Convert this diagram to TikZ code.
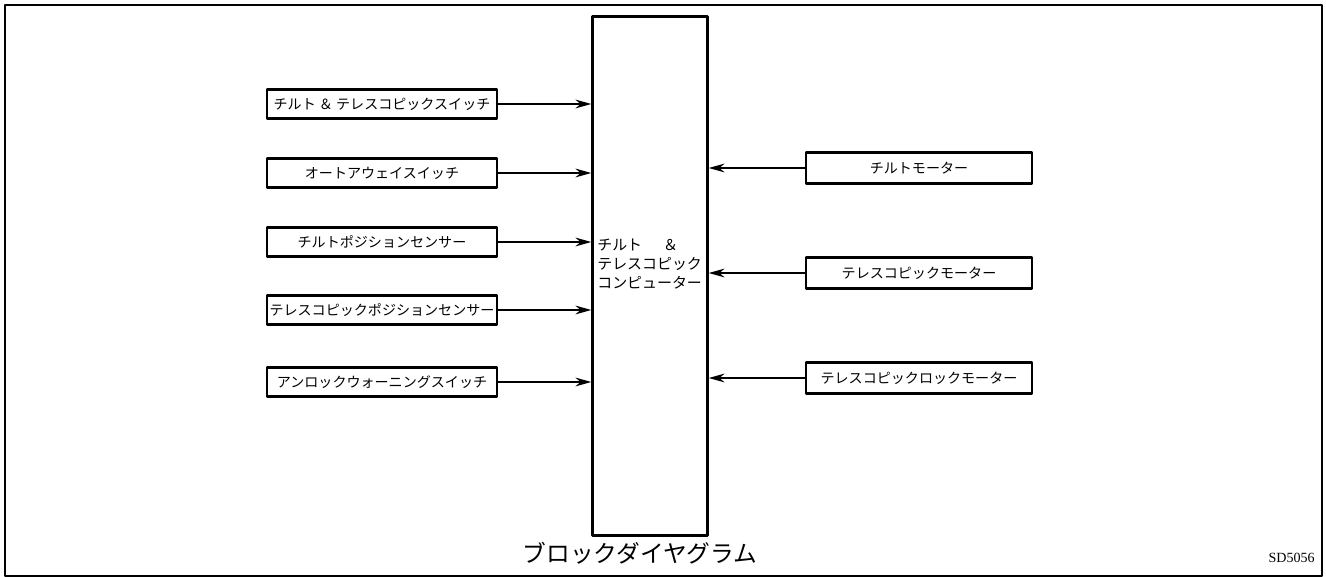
\documentclass[tikz,border=0pt]{standalone}
\usepackage{fontspec}
\newfontfamily\jpfont{Noto Sans CJK JP}
\setmainfont{Liberation Serif}
\usetikzlibrary{arrows.meta,calc,positioning}

\newdimen\pxu
\pxu=0.02cm
\tikzset{
  inbox/.style={draw,line width=1.4pt,rectangle,inner sep=0pt,
    minimum width=230\pxu,minimum height=29\pxu,font=\jpfont\fontsize{8}{10}\selectfont},
  outbox/.style={draw,line width=1.4pt,rectangle,inner sep=0pt,
    minimum width=226\pxu,minimum height=31\pxu,font=\jpfont\fontsize{8}{10}\selectfont},
  sig/.style={-{Stealth[length=9pt,width=5pt]},line width=0.9pt}
}

\begin{document}
\begin{tikzpicture}[x=0.02cm,y=-0.02cm,line cap=round,line join=round]
 \useasboundingbox (0,0) rectangle (1326,577);
 % outer frame
 \draw[line width=0.9pt] (5,5) rectangle (1322,576);
 % computer
 \node[draw,line width=1.4pt,minimum width=115\pxu,minimum height=519\pxu,inner sep=0pt]
  (cpu) at (650,276) {};
 \node[anchor=west,align=left,inner sep=0pt,
  font=\jpfont\fontsize{8.5}{10.8}\selectfont] (cpulbl) at (597,264)
  {チルト\hspace{1.4em}＆\\テレスコピック\\コンピューター};
 % inputs
 \node[inbox] (sw1) at (382,104) {チルト ＆ テレスコピックスイッチ};
 \node[inbox] (sw2) at (382,173) {オートアウェイスイッチ};
 \node[inbox] (sw3) at (382,242) {チルトポジションセンサー};
 \node[inbox] (sw4) at (382,310) {テレスコピックポジションセンサー};
 \node[inbox] (sw5) at (382,382) {アンロックウォーニングスイッチ};
 \foreach \n in {sw1,sw2,sw3,sw4,sw5}
  \draw[sig] (\n.east) -- (\n.east -| cpu.west);
 % motors
 \node[outbox] (m1) at (919,168) {チルトモーター};
 \node[outbox] (m2) at (919,273) {テレスコピックモーター};
 \node[outbox] (m3) at (919,378) {テレスコピックロックモーター};
 \foreach \n in {m1,m2,m3}
  \draw[sig] (\n.west) -- (\n.west -| cpu.east);
 % captions
 \node[font=\jpfont\fontsize{13.5}{15}\selectfont,inner sep=0pt] (title) at (640,553)
  {ブロックダイヤグラム};
 \node[font=\fontsize{8}{9}\selectfont,anchor=east,inner sep=0pt] (code) at (1315,558) {SD5056};
\end{tikzpicture}
\end{document}
